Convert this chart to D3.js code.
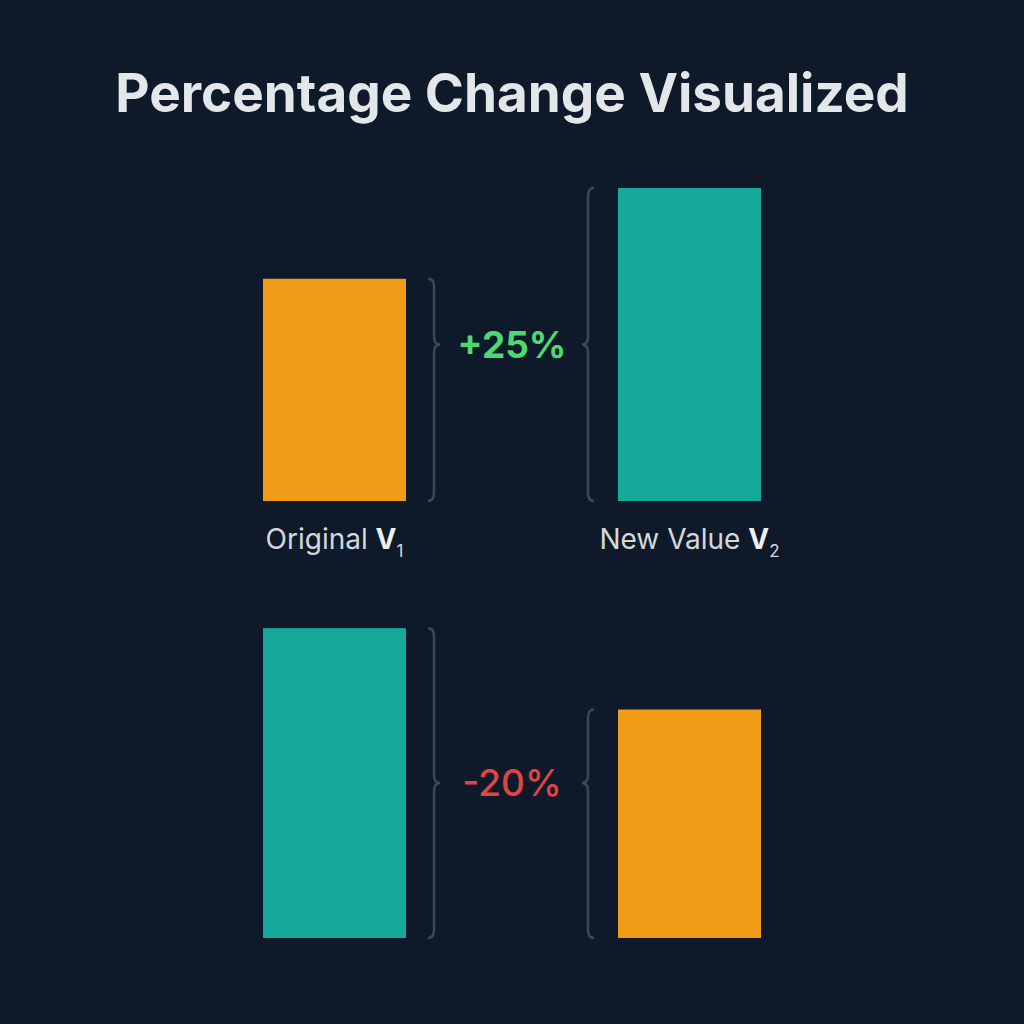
<!DOCTYPE html>
<html>
<head>
<meta charset="utf-8">
<script src="https://cdn.jsdelivr.net/npm/d3@7"></script>
<style>
  html, body { margin: 0; padding: 0; background: #0e1a2a; }
  svg { display: block; }
</style>
</head>
<body>
<svg id="chart" width="1024" height="1024"></svg>
<script>
// pairs of bars: before / after (relative heights)
const rows = ["increase", "decrease"];
const beforeValues = [71, 99];
const afterValues = [100, 73];
const beforeColors = ["#f09c17", "#14a99a"];
const afterColors = ["#14a99a", "#f09c17"];
const changeLabels = ["+25%", "-20%"];
const changeColors = ["#4ed872", "#e04444"];
const barLabels = ["Original", "New Value"];
const barSubs = ["1", "2"];

const svg = d3.select("#chart");

svg.append("rect").attr("width", 1024).attr("height", 1024).attr("fill", "#0e1a2a");

svg.append("text")
  .attr("x", 512).attr("y", 112)
  .attr("text-anchor", "middle")
  .attr("font-family", "Inter, 'Open Sans', sans-serif")
  .attr("font-weight", 700)
  .attr("font-size", 53)
  .attr("fill", "#e4e7ea")
  .text("Percentage Change Visualized");

const x = d3.scaleOrdinal().domain(["before", "after"]).range([263, 618]);
const barW = 143;
const h = d3.scaleLinear().domain([0, 100]).range([0, 313]);
const baseline = d3.scaleOrdinal().domain(rows).range([501, 938]);

// brace with its tip at ym (dir 1 points right, -1 points left)
function brace(x0, y1, y2, ym, dir) {
  const w = 6 * dir, r = 8;
  return `M${x0},${y1} q${w},0 ${w},${r} L${x0 + w},${ym - r} q0,${r} ${w},${r}` +
         ` q${-w},0 ${-w},${r} L${x0 + w},${y2 - r} q0,${r} ${-w},${r}`;
}

rows.forEach((row, i) => {
  const b = baseline(row);
  const bars = [
    { key: "before", v: beforeValues[i], c: beforeColors[i] },
    { key: "after", v: afterValues[i], c: afterColors[i] }
  ];
  svg.selectAll(null).data(bars).enter().append("rect")
    .attr("x", d => x(d.key))
    .attr("y", d => b - h(d.v))
    .attr("width", barW)
    .attr("height", d => h(d.v))
    .attr("fill", d => d.c);

  const lTop = b - h(beforeValues[i]), rTop = b - h(afterValues[i]);
  const cy = (Math.min(lTop, rTop) + b) / 2;

  const g = svg.append("g").attr("fill", "none").attr("stroke", "#3a4858").attr("stroke-width", 2.5);
  g.append("path").attr("d", brace(x("before") + barW + 22, lTop, b, cy, 1));
  g.append("path").attr("d", brace(x("after") - 24, rTop, b, cy, -1));

  svg.append("text")
    .attr("x", 512).attr("y", cy + 13)
    .attr("text-anchor", "middle")
    .attr("font-family", "Inter, 'Open Sans', sans-serif")
    .attr("font-weight", i === 0 ? 700 : 500)
    .attr("font-size", 37)
    .attr("fill", changeColors[i])
    .text(changeLabels[i]);
});

// category labels under top row
["before", "after"].forEach((k, j) => {
  const t = svg.append("text")
    .attr("x", x(k) + barW / 2).attr("y", 549)
    .attr("text-anchor", "middle")
    .attr("font-family", "Inter, 'Open Sans', sans-serif")
    .attr("font-size", 28)
    .attr("fill", "#d4d8dc");
  t.append("tspan").text(barLabels[j] + " ");
  t.append("tspan").attr("font-weight", 700).attr("fill", "#eef0f2").text("V");
  t.append("tspan").attr("font-size", 17).attr("dy", 8).text(barSubs[j]);
});
</script>
</body>
</html>
